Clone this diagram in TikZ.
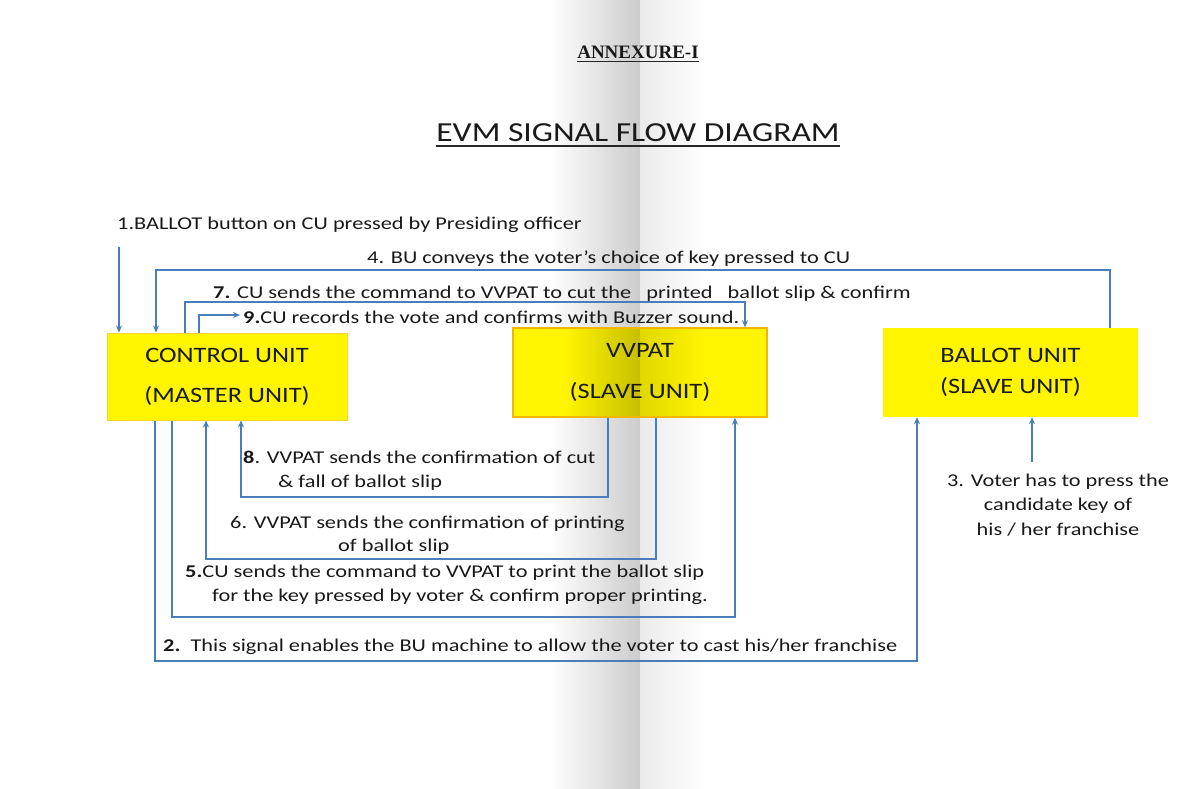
\documentclass[tikz,border=0pt]{standalone}
\usepackage{fontspec}
\setmainfont{Carlito}
\newfontfamily\labf{Carlito}[FakeStretch=1.24]
\newfontfamily\boxff{Carlito}[FakeStretch=1.2]
\newfontfamily\titf{Carlito}[FakeStretch=1.22]
\newfontfamily\annf{Liberation Serif}
\usetikzlibrary{arrows.meta}
\definecolor{sigblue}{HTML}{4A7EBB}
\definecolor{boxy}{HTML}{FFF500}
\definecolor{vvborder}{HTML}{F2B705}
\definecolor{cuborder}{HTML}{F5D43A}
\begin{document}
\begin{tikzpicture}[x=1pt,y=-1pt,
  sig/.style={draw=sigblue, line width=1.6pt},
  arr/.style={sig, -{Stealth[length=7pt,width=6pt]}},
  unit/.style={inner sep=0pt, align=center, text=black!90},
  lab/.style={font=\labf\fontsize{18}{24.5}\selectfont, inner sep=0pt, anchor=west,
              text height=0.75em, text depth=0.22em, text=black!90}
]
\useasboundingbox (0,0) rectangle (1200,789);
% page with book fold
\fill[white] (0,0) rectangle (1200,789);
\shade[left color=white, right color=black!20] (550,0) rectangle (640,789);
\shade[left color=black!8, right color=white] (640,0) rectangle (705,789);

% titles
\node (annex) [anchor=base, inner sep=0pt, font=\annf\bfseries\fontsize{19}{22}\selectfont, text=black!90] at (638,59) {ANNEXURE-I};
\draw[line width=1.1pt, black!85] ([yshift=-2.5pt]annex.base west) -- ([yshift=-2.5pt]annex.base east);
\node (title) [anchor=base, inner sep=0pt, font=\titf\fontsize{27.5}{32}\selectfont, text=black!90] at (638,142) {EVM SIGNAL FLOW DIAGRAM};
\draw[line width=1.8pt, black!85] ([yshift=-4pt]title.base west) -- ([yshift=-4pt]title.base east);

% VVPAT box background with fold
\fill[boxy] (513,328) rectangle (767,417);
\shade[left color=boxy, right color=boxy!78!black] (565,328) rectangle (640,417);
\shade[left color=boxy!88!black, right color=boxy] (640,328) rectangle (705,417);

% units
\node (cu) [unit, fill=boxy, draw=cuborder, line width=1pt, minimum width=240pt, minimum height=87pt,
  font=\boxff\fontsize{22}{40}\selectfont] at (227,376.5) {CONTROL UNIT\\(MASTER UNIT)};
\node (vv) [unit, draw=vvborder, line width=1.4pt, minimum width=254pt, minimum height=89pt,
  font=\boxff\fontsize{22}{41}\selectfont] at (640,372.5) {VVPAT\\(SLAVE UNIT)};
\node (bu) [unit, fill=boxy, minimum width=255pt, minimum height=89pt,
  font=\boxff\fontsize{22}{31}\selectfont] at (1010.5,372.5) {BALLOT UNIT\\(SLAVE UNIT)};

% coordinates
\coordinate (s1) at (119,247);
\coordinate (c4r) at (1110,270); \coordinate (c4l) at (156,270);
\coordinate (c7l) at (185,302);  \coordinate (c7r) at (745,302);
\coordinate (c9) at (199,315);   \coordinate (e9) at (240,315);
\coordinate (c8r) at (608,497);  \coordinate (c8l) at (241,497);
\coordinate (c6r) at (656,559);  \coordinate (c6l) at (206,559);
\coordinate (c5l) at (172,617);  \coordinate (c5r) at (735,617);
\coordinate (c2l) at (155,661);  \coordinate (c2r) at (917,661);
\coordinate (s3) at (1032,462);

% connectors
\draw[arr] (s1) -- (cu.north -| s1);
\draw[arr] (bu.north -| c4r) -- (c4r) -- (c4l) -- (cu.north -| c4l);
\draw[arr] (cu.north -| c7l) -- (c7l) -- (c7r) -- (vv.north -| c7r);
\draw[arr] (cu.north -| c9) -- (c9) -- (e9);
\draw[arr] (vv.south -| c8r) -- (c8r) -- (c8l) -- (cu.south -| c8l);
\draw[arr] (vv.south -| c6r) -- (c6r) -- (c6l) -- (cu.south -| c6l);
\draw[arr] (cu.south -| c5l) -- (c5l) -- (c5r) -- (vv.south -| c5r);
\draw[arr] (cu.south -| c2l) -- (c2l) -- (c2r) -- (bu.south -| c2r);
\draw[arr] (s3) -- (bu.south -| s3);

% labels
\node (l1) [lab] at (117,227) {1.BALLOT button on CU pressed by Presiding officer};
\node (l4) [lab] at (367,261) {4. BU conveys the voter’s choice of key pressed to CU};
\node (l7) [lab] at (213,296) {\textbf{7.} CU sends the command to VVPAT to cut the\ \ \ printed\ \ \ ballot slip \& confirm};
\node (l9) [lab] at (243,321) {\textbf{9.}CU records the vote and confirms with Buzzer sound.};
\node (l8a) [lab] at (243,461) {\textbf{8}. VVPAT sends the confirmation of cut};
\node (l8b) [lab] at (278,485) {\& fall of ballot slip};
\node (l6a) [lab] at (230,526) {6. VVPAT sends the confirmation of printing};
\node (l6b) [lab] at (338,549) {of ballot slip};
\node (l5a) [lab] at (185,575) {\textbf{5.}CU sends the command to VVPAT to print the ballot slip};
\node (l5b) [lab] at (212,599) {for the key pressed by voter \& confirm proper printing.};
\node (l2) [lab] at (163,649) {\textbf{2.}\ \ This signal enables the BU machine to allow the voter to cast his/her franchise};
\node (l3) [font=\labf\fontsize{18}{24.5}\selectfont, inner sep=0pt, text=black!90, align=center] at (1058,505) {3. Voter has to press the\\candidate key of\\his / her franchise};
\end{tikzpicture}
\end{document}
